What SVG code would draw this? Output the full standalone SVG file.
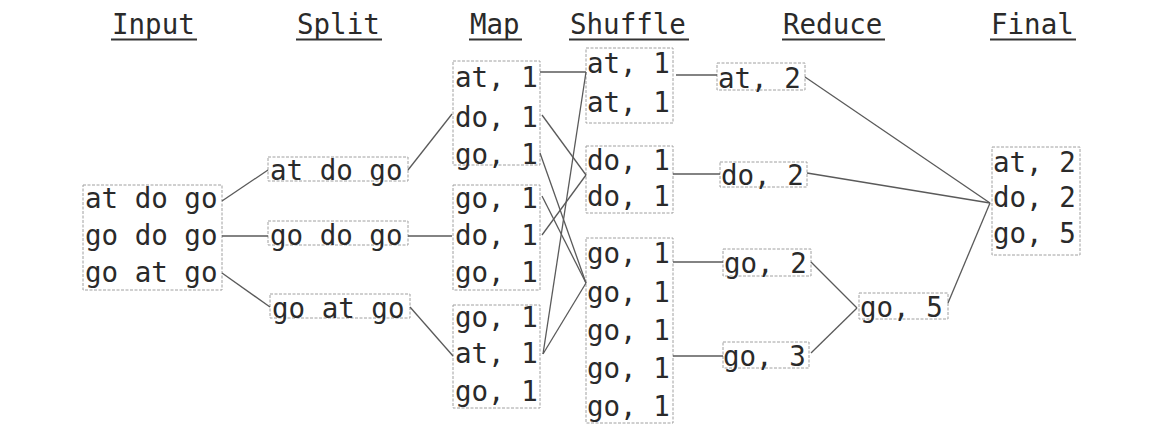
<svg xmlns="http://www.w3.org/2000/svg" width="1171" height="436" viewBox="0 0 1171 436">
<style>
text{font-family:"DejaVu Sans Mono","Liberation Mono",monospace;font-size:27.5px;fill:#2a2a2a}
.box{fill:none;stroke:#a0a0a0;stroke-width:1;stroke-dasharray:3 1.5}
.ul{stroke:#333333;stroke-width:2}
#connectors line{stroke:#5a5a5a;stroke-width:1.3;fill:none}
</style>
<rect width="1171" height="436" fill="#ffffff"/>
<g id="titles">
<text x="112" y="34">Input</text><line class="ul" x1="111" y1="39.5" x2="197" y2="39.5"/>
<text x="297" y="34">Split</text><line class="ul" x1="296" y1="39.5" x2="382" y2="39.5"/>
<text x="470" y="34">Map</text><line class="ul" x1="469" y1="39.5" x2="522" y2="39.5"/>
<text x="570" y="34">Shuffle</text><line class="ul" x1="569" y1="39.5" x2="689" y2="39.5"/>
<text x="783" y="34">Reduce</text><line class="ul" x1="782" y1="39.5" x2="885" y2="39.5"/>
<text x="991" y="34">Final</text><line class="ul" x1="990" y1="39.5" x2="1076" y2="39.5"/>
</g>
<g id="input">
<rect class="box" x="83" y="185" width="139" height="105"/>
<text x="85" y="208">at do go</text>
<text x="85" y="245">go do go</text>
<text x="85" y="282">go at go</text>
</g>
<g id="split1"><rect class="box" x="268" y="157" width="140" height="24"/><text x="270" y="180">at do go</text></g>
<g id="split2"><rect class="box" x="268" y="221" width="140" height="24"/><text x="270" y="245">go do go</text></g>
<g id="split3"><rect class="box" x="270" y="294" width="140" height="24"/><text x="272" y="318">go at go</text></g>
<g id="map1">
<rect class="box" x="453" y="61" width="87" height="104"/>
<text x="455" y="87">at, 1</text>
<text x="455" y="127">do, 1</text>
<text x="455" y="164">go, 1</text>
</g>
<g id="map2">
<rect class="box" x="453" y="185" width="87" height="105"/>
<text x="455" y="208">go, 1</text>
<text x="455" y="245">do, 1</text>
<text x="455" y="282">go, 1</text>
</g>
<g id="map3">
<rect class="box" x="453" y="305" width="87" height="103"/>
<text x="455" y="327">go, 1</text>
<text x="455" y="363">at, 1</text>
<text x="455" y="401">go, 1</text>
</g>
<g id="shuffle-at">
<rect class="box" x="586" y="48" width="87" height="75"/>
<text x="587" y="73">at, 1</text>
<text x="587" y="112">at, 1</text>
</g>
<g id="shuffle-do">
<rect class="box" x="586" y="146" width="87" height="67"/>
<text x="587" y="170">do, 1</text>
<text x="587" y="206">do, 1</text>
</g>
<g id="shuffle-go">
<rect class="box" x="586" y="238" width="87" height="185"/>
<text x="587" y="263">go, 1</text>
<text x="587" y="302">go, 1</text>
<text x="587" y="340">go, 1</text>
<text x="587" y="378">go, 1</text>
<text x="587" y="416">go, 1</text>
</g>
<g id="reduce-at"><rect class="box" x="717" y="63" width="88" height="27"/><text x="718" y="88">at, 2</text></g>
<g id="reduce-do"><rect class="box" x="720" y="162" width="87" height="25"/><text x="721" y="185">do, 2</text></g>
<g id="reduce-go2"><rect class="box" x="723" y="249" width="88" height="27"/><text x="724" y="273">go, 2</text></g>
<g id="reduce-go3"><rect class="box" x="723" y="342" width="86" height="26"/><text x="723" y="366">go, 3</text></g>
<g id="reduce-go5"><rect class="box" x="859" y="293" width="89" height="26"/><text x="860" y="317">go, 5</text></g>
<g id="final">
<rect class="box" x="992" y="147" width="88" height="108"/>
<text x="993" y="172">at, 2</text>
<text x="993" y="207">do, 2</text>
<text x="993" y="243">go, 5</text>
</g>
<g id="connectors">
<line x1="222" y1="201" x2="268" y2="170"/>
<line x1="222" y1="236" x2="268" y2="236"/>
<line x1="222" y1="273" x2="270" y2="307"/>
<line x1="408" y1="170" x2="452" y2="114"/>
<line x1="408" y1="236" x2="452" y2="236"/>
<line x1="410" y1="307" x2="453" y2="356"/>
<line x1="540" y1="72" x2="586" y2="72"/>
<line x1="542" y1="115" x2="586" y2="175"/>
<line x1="540" y1="153" x2="586" y2="283"/>
<line x1="542" y1="196" x2="586" y2="283"/>
<line x1="542" y1="235" x2="586" y2="175"/>
<line x1="543" y1="354" x2="586" y2="72"/>
<line x1="543" y1="354" x2="586" y2="283"/>
<line x1="676" y1="75" x2="717" y2="75"/>
<line x1="673" y1="174" x2="720" y2="174"/>
<line x1="673" y1="262" x2="723" y2="262"/>
<line x1="673" y1="356" x2="723" y2="356"/>
<line x1="805" y1="77" x2="990" y2="203"/>
<line x1="807" y1="173" x2="990" y2="203"/>
<line x1="811" y1="262" x2="857" y2="308"/>
<line x1="811" y1="353" x2="857" y2="308"/>
<line x1="948" y1="303" x2="990" y2="203"/>
</g>
</svg>
